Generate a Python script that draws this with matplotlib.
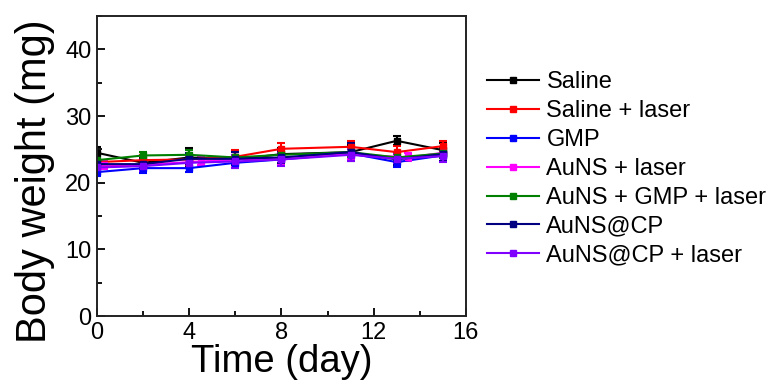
import matplotlib
matplotlib.use("Agg")
import matplotlib.pyplot as plt
from matplotlib.ticker import MultipleLocator

plt.rcParams['font.family'] = ['Liberation Sans', 'DejaVu Sans']

labels = ["Saline", "Saline + laser", "GMP", "AuNS + laser",
          "AuNS + GMP + laser", "AuNS@CP", "AuNS@CP + laser"]
colors = ["#000000", "#ff0000", "#0000ff", "#ff00ff", "#008000", "#000080", "#8000ff"]

days = [0, 2, 4, 6, 8, 11, 13, 15]
days_magenta = [0.3, 2, 4.5, 6, 8, 11, 13.5, 15]

saline = [24.5, 23.0, 23.8, 23.5, 24.3, 24.6, 26.3, 24.9]
saline_laser = [23.1, 23.4, 23.5, 23.9, 25.1, 25.4, 24.6, 25.5]
gmp = [21.6, 22.2, 22.2, 23.0, 23.5, 24.4, 23.1, 24.1]
auns_laser = [22.6, 22.7, 23.2, 23.5, 23.6, 24.3, 23.8, 24.5]
auns_gmp_laser = [23.4, 24.1, 24.2, 23.8, 24.2, 24.6, 23.8, 24.4]
auns_cp = [22.8, 22.8, 23.6, 23.6, 23.8, 24.6, 23.5, 24.3]
auns_cp_laser = [22.3, 22.5, 23.0, 23.2, 23.5, 24.2, 23.6, 24.0]

err_saline = [0.8, 0.7, 1.4, 1.2, 0.9, 1.0, 0.7, 1.1]
err_saline_laser = [0.6, 0.7, 0.8, 1.0, 0.8, 0.9, 0.9, 0.8]
err_gmp = [0.6, 0.7, 0.6, 0.8, 0.9, 0.9, 0.7, 0.8]
err_auns_laser = [0.6, 0.6, 0.6, 1.1, 0.8, 0.7, 0.6, 0.7]
err_auns_gmp_laser = [0.6, 0.5, 0.7, 0.8, 0.7, 0.8, 0.6, 0.7]
err_auns_cp = [0.7, 0.7, 0.8, 1.0, 0.9, 1.3, 0.8, 1.0]
err_auns_cp_laser = [0.7, 0.7, 0.8, 1.0, 1.0, 0.9, 0.7, 0.9]

series = [(days, saline, err_saline), (days, saline_laser, err_saline_laser),
          (days, gmp, err_gmp), (days_magenta, auns_laser, err_auns_laser),
          (days, auns_gmp_laser, err_auns_gmp_laser), (days, auns_cp, err_auns_cp),
          (days, auns_cp_laser, err_auns_cp_laser)]

fig = plt.figure(figsize=(7.7, 3.85), dpi=100)
ax = fig.add_axes([0.126, 0.179, 0.479, 0.779])

for (x, y, e), lab, c in zip(series, labels, colors):
    ax.errorbar(x, y, yerr=e, color=c, label=lab, marker='s', markersize=5,
                linewidth=1.5, elinewidth=1.5, capsize=3, capthick=1.5)

ax.set_xlim(0, 16)
ax.set_ylim(0, 45)
ax.xaxis.set_major_locator(MultipleLocator(4))
ax.xaxis.set_minor_locator(MultipleLocator(2))
ax.yaxis.set_major_locator(MultipleLocator(10))
ax.yaxis.set_minor_locator(MultipleLocator(5))
ax.tick_params(which='both', direction='in', top=False, right=False, width=1.3)
ax.tick_params(which='major', length=6, labelsize=17, pad=4)
ax.tick_params(which='minor', length=3.5)
for s in ax.spines.values():
    s.set_linewidth(1.4)
    s.set_color('#222222')

ax.set_xlabel("Time (day)", fontsize=27.5, labelpad=0)
ax.set_ylabel("Body weight (mg)", fontsize=30, va='center')
ax.yaxis.set_label_coords(-0.168, 0.45)

handles, labs = ax.get_legend_handles_labels()
handles = [h[0] for h in handles]
fig.legend(handles, labs, loc='center left', bbox_to_anchor=(0.633, 0.561),
           frameon=False, fontsize=17, handlelength=2.2, handletextpad=0.3,
           labelspacing=0.29, borderpad=0, borderaxespad=0)

fig.savefig("out.png", dpi=100)
